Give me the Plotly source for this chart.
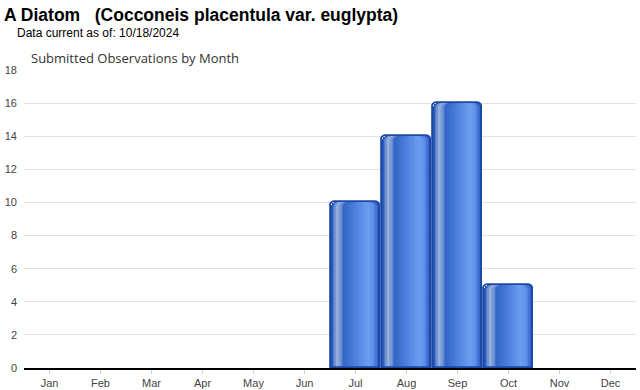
import plotly.graph_objects as go

months = ["Jan", "Feb", "Mar", "Apr", "May", "Jun", "Jul", "Aug", "Sep", "Oct", "Nov", "Dec"]
counts = [0, 0, 0, 0, 0, 0, 10, 14, 16, 5, 0, 0]
y_ticks = [0, 2, 4, 6, 8, 10, 12, 14, 16, 18]

title_text = "A Diatom\u00a0\u00a0\u00a0(Cocconeis placentula var. euglypta)"
subtitle_text = "Data current as of: 10/18/2024"
chart_title = "Submitted Observations by Month"

# horizontal gradient stops across each bar (position, rgb)
stops = [
    (0.00, (28, 74, 168)),
    (0.04, (47, 96, 192)),
    (0.12, (160, 182, 220)),
    (0.18, (125, 158, 216)),
    (0.26, (52, 102, 200)),
    (0.50, (78, 128, 222)),
    (0.76, (110, 158, 240)),
    (0.88, (90, 138, 230)),
    (0.95, (44, 92, 192)),
    (1.00, (26, 72, 168)),
]


def color_at(t):
    for (p0, c0), (p1, c1) in zip(stops[:-1], stops[1:]):
        if p0 <= t <= p1:
            f = 0 if p1 == p0 else (t - p0) / (p1 - p0)
            c = [round(a + (b - a) * f) for a, b in zip(c0, c1)]
            return f"rgb({c[0]},{c[1]},{c[2]})"
    c = stops[-1][1]
    return f"rgb({c[0]},{c[1]},{c[2]})"


bar_w = 0.98
n_slices = 40
half = n_slices // 2
s = bar_w / n_slices
radius = 5
outline_w = [1.8 if c > 0 else 0 for c in counts]

fig = go.Figure()


def add_layer(offset, width, t):
    fig.add_trace(go.Bar(
        x=months, y=counts,
        width=width, offset=offset,
        marker=dict(color=color_at(t), line=dict(width=0), cornerradius=radius),
        hoverinfo="skip", showlegend=False,
    ))


# left half: layers growing from the left, each extending to the right edge
for k in range(half):
    add_layer(-bar_w / 2 + k * s, bar_w - k * s, (k + 0.5) / n_slices)
# right half: layers from the middle, widest first
for k in range(n_slices - 1, half - 1, -1):
    add_layer(-bar_w / 2 + half * s, (k + 1 - half) * s, (k + 0.5) / n_slices)

fig.add_trace(go.Bar(
    x=months, y=counts,
    width=bar_w,
    offset=-bar_w / 2,
    marker=dict(color="rgba(0,0,0,0)", line=dict(color="#1b49a8", width=outline_w), cornerradius=radius),
    hoverinfo="skip", showlegend=False,
))

fig.update_layout(
    width=640, height=390,
    margin=dict(l=24, r=4, t=70, b=22),
    barmode="overlay",
    bargap=0,
    plot_bgcolor="white", paper_bgcolor="white",
    font=dict(family="Liberation Sans, Arial, sans-serif", size=11, color="#444"),
    showlegend=False,
    hovermode=False,
    xaxis=dict(
        type="category",
        categoryorder="array", categoryarray=months,
        showgrid=False,
        showline=True, linecolor="#000", linewidth=2,
        ticks="outside", ticklen=4, tickcolor="#d0d0d0", tickwidth=1,
        tickfont=dict(size=11, color="#444"),
        range=[-0.5, 11.5],
        fixedrange=True,
        automargin=False,
    ),
    yaxis=dict(
        range=[0, 18],
        tickvals=y_ticks,
        showgrid=True, gridcolor="#e2e2e2", gridwidth=1,
        zeroline=False,
        showline=False,
        ticks="",
        ticklabelstandoff=6,
        tickfont=dict(size=11, color="#444"),
        fixedrange=True,
        automargin=False,
    ),
    annotations=[
        dict(text=f"<b>{title_text}</b>", xref="paper", yref="paper",
             x=-22 / 612, y=1 + 70 / 298 - 3 / 298, xanchor="left", yanchor="top",
             showarrow=False, font=dict(size=17.5, color="#000", family="Liberation Sans, Arial, sans-serif")),
        dict(text=subtitle_text, xref="paper", yref="paper",
             x=-9 / 612, y=1 + 70 / 298 - 24 / 298, xanchor="left", yanchor="top",
             showarrow=False, font=dict(size=12, color="#000", family="Liberation Sans, Arial, sans-serif")),
        dict(text=chart_title, xref="paper", yref="paper",
             x=5 / 612, y=1 + 70 / 298 - 47 / 298, xanchor="left", yanchor="top",
             showarrow=False, font=dict(size=13, color="#333", family="Open Sans, sans-serif")),
    ],
)

fig.write_html("out.html", config={"displayModeBar": False},
               post_script="document.body.style.margin='0';document.body.style.overflow='hidden';")
